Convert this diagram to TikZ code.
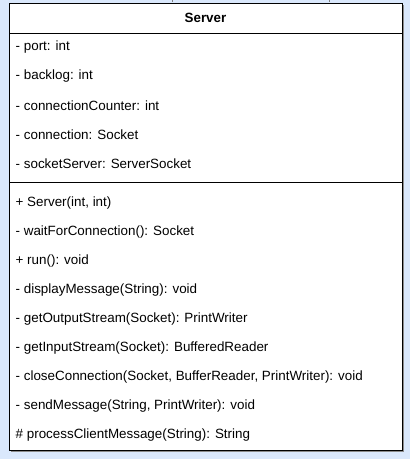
\documentclass[tikz,border=0pt]{standalone}
\usepackage{fontspec}
\setmainfont{Liberation Sans}
\definecolor{bgblue}{HTML}{DAE8FC}
\definecolor{shadowgray}{HTML}{8C8C8C}
\begin{document}
\begin{tikzpicture}[x=1pt,y=-1pt,
  member/.style={anchor=west,inner sep=0pt,font=\fontsize{13.4}{15}\selectfont},
  title/.style={inner sep=0pt,font=\fontsize{13.4}{15}\selectfont\bfseries},
  frame/.style={draw=black,line width=1pt}]
\fill[bgblue] (0,0) rectangle (410,459);
\useasboundingbox (0,0) rectangle (410,459);
% shadow
\fill[shadowgray] (10.5,4.5) rectangle (404,452);
% box
\filldraw[frame,fill=white] (9,3) rectangle (402.5,450.5);
\draw[frame] (9,33) -- (402.5,33);
\draw[frame] (9,182.5) -- (402.5,182.5);
% cut-off connector stubs at top
\coordinate (c1top) at (172,0);
\coordinate (c1bot) at (172,2);
\coordinate (c2top) at (329,0);
\coordinate (c2bot) at (329,2);
\draw[line width=0.6pt,gray] (c1top) -- (c1bot);
\draw[line width=0.6pt,gray] (c2top) -- (c2bot);
\node[title] (name) at (205.5,18) {Server};
\node[member] (a1) at (15.5,47) {- port: int};
\node[member] (a2) at (15.5,76) {- backlog: int};
\node[member] (a3) at (15.5,105.5) {- connectionCounter: int};
\node[member] (a4) at (15.5,134.5) {- connection: Socket};
\node[member] (a5) at (15.5,163.5) {- socketServer: ServerSocket};
\node[member] (m1) at (15.5,203.5) {+ Server(int, int)};
\node[member] (m2) at (15.5,232.5) {- waitForConnection(): Socket};
\node[member] (m3) at (15.5,261.5) {+ run(): void};
\node[member] (m4) at (15.5,290.5) {- displayMessage(String): void};
\node[member] (m5) at (15.5,319.5) {- getOutputStream(Socket): PrintWriter};
\node[member] (m6) at (15.5,348.5) {- getInputStream(Socket): BufferedReader};
\node[member] (m7) at (15.5,377.5) {- closeConnection(Socket, BufferReader, PrintWriter): void};
\node[member] (m8) at (15.5,406.5) {- sendMessage(String, PrintWriter): void};
\node[member] (m9) at (15.5,435.5) {\# processClientMessage(String): String};
\end{tikzpicture}
\end{document}
